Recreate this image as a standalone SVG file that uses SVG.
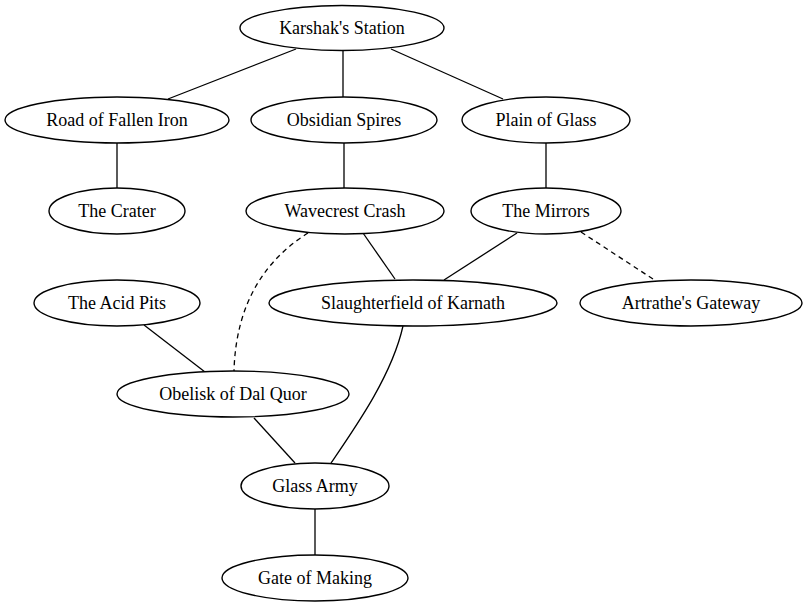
<svg xmlns="http://www.w3.org/2000/svg" width="807" height="606" viewBox="0 0 807 606">
<style>
.n ellipse{fill:#fff;stroke:#000;stroke-width:1.4}
.n text{font-family:"Liberation Serif","Times New Roman",serif;font-size:18px;fill:#000;text-anchor:middle;dominant-baseline:central}
.e path{fill:none;stroke:#000;stroke-width:1.3}
.e .d{stroke-dasharray:5,4}
</style>
<rect width="807" height="606" fill="#fff"/>
<g id="edges" class="e">
<path d="M296,49 L168,99"/>
<path d="M343,51 L343,97"/>
<path d="M391,49 L503,99"/>
<path d="M117,143 L117,188"/>
<path d="M344,143 L344,188"/>
<path d="M546,143 L546,188"/>
<path d="M363,233 L395,279"/>
<path d="M517,233 L444,280"/>
<path class="d" d="M581,232 L656,281"/>
<path class="d" d="M308,233 C268,258 236,300 234,371"/>
<path d="M144,325 L205,372"/>
<path d="M254,418 L295,463"/>
<path d="M403,326 C392,375 357,425 331,463"/>
<path d="M315,509 L315,555"/>
</g>
<g id="karshak" class="n"><ellipse cx="342" cy="28" rx="102" ry="22.5"/><text x="342" y="28">Karshak's Station</text></g>
<g id="road" class="n"><ellipse cx="117" cy="120" rx="112" ry="23"/><text x="117" y="120">Road of Fallen Iron</text></g>
<g id="obsidian" class="n"><ellipse cx="344" cy="120" rx="93" ry="23"/><text x="344" y="120">Obsidian Spires</text></g>
<g id="plain" class="n"><ellipse cx="546" cy="120" rx="84" ry="23"/><text x="546" y="120">Plain of Glass</text></g>
<g id="crater" class="n"><ellipse cx="117" cy="211" rx="68" ry="23"/><text x="117" y="211">The Crater</text></g>
<g id="wavecrest" class="n"><ellipse cx="345" cy="211" rx="99" ry="23"/><text x="345" y="211">Wavecrest Crash</text></g>
<g id="mirrors" class="n"><ellipse cx="546" cy="211" rx="75" ry="23"/><text x="546" y="211">The Mirrors</text></g>
<g id="acid" class="n"><ellipse cx="117" cy="303" rx="83" ry="23"/><text x="117" y="303">The Acid Pits</text></g>
<g id="slaughter" class="n"><ellipse cx="413" cy="303" rx="144" ry="23"/><text x="413" y="303">Slaughterfield of Karnath</text></g>
<g id="artrathe" class="n"><ellipse cx="691" cy="303" rx="111" ry="23"/><text x="691" y="303">Artrathe's Gateway</text></g>
<g id="obelisk" class="n"><ellipse cx="233" cy="394" rx="116" ry="23"/><text x="233" y="394">Obelisk of Dal Quor</text></g>
<g id="glass" class="n"><ellipse cx="315" cy="486" rx="74" ry="23"/><text x="315" y="486">Glass Army</text></g>
<g id="gate" class="n"><ellipse cx="315" cy="578" rx="93" ry="23"/><text x="315" y="578">Gate of Making</text></g>
</svg>
